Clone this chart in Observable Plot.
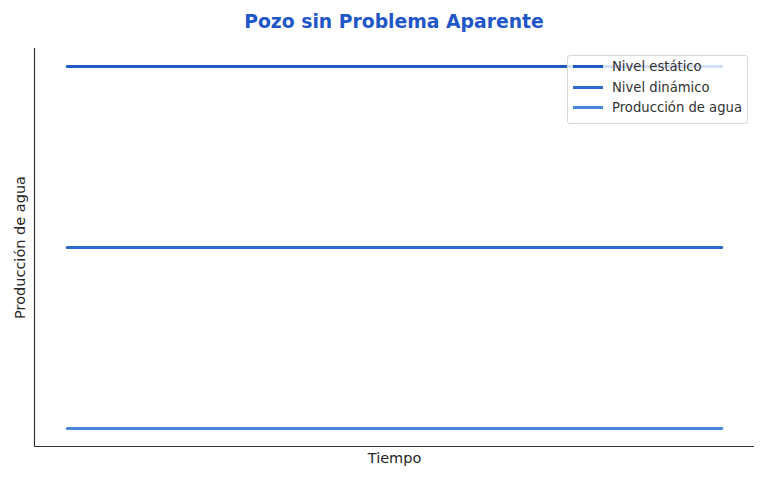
<!DOCTYPE html>
<html>
<head>
<meta charset="utf-8">
<script src="https://cdn.jsdelivr.net/npm/d3@7"></script>
<script src="https://cdn.jsdelivr.net/npm/@observablehq/plot@0.6"></script>
<style>
  html, body { margin: 0; padding: 0; background: #fff; }
  body { width: 768px; height: 480px; position: relative; overflow: hidden; font-family: "DejaVu Sans", sans-serif; }
  #title { height: 40px; line-height: 43px; padding-left: 20px; text-align: center; font-weight: bold; font-size: 18.8px; color: #1f56c8; }
  #legend { position: absolute; left: 567px; top: 55px; width: 179px; padding: 0 0 5px 0; background: rgba(255,255,255,0.8); border: 1px solid #d8d8d8; border-radius: 3px; font-size: 13.2px; color: #333; }
  .item { display: flex; align-items: center; height: 20.7px; }
  .sw { width: 30px; height: 3px; margin-left: 5px; margin-right: 9px; }
</style>
</head>
<body>
<div id="title">Pozo sin Problema Aparente</div>
<div id="chart"></div>
<div id="legend"></div>
<script>
const tiempo = [0, 1, 2, 3, 4, 5, 6, 7, 8, 9, 10];
const nivelEstatico = [3, 3, 3, 3, 3, 3, 3, 3, 3, 3, 3];
const nivelDinamico = [2, 2, 2, 2, 2, 2, 2, 2, 2, 2, 2];
const produccionAgua = [1, 1, 1, 1, 1, 1, 1, 1, 1, 1, 1];
const seriesNames = ["Nivel estático", "Nivel dinámico", "Producción de agua"];
const seriesColors = ["#1f5bc4", "#2c6ad0", "#4a88dc"];
const seriesValues = [nivelEstatico, nivelDinamico, produccionAgua];

const data = [];
seriesNames.forEach((name, i) => {
  tiempo.forEach((t, j) => data.push({ serie: name, t, v: seriesValues[i][j] }));
});

const plot = Plot.plot({
  width: 768,
  height: 440,
  marginTop: 8,
  marginBottom: 34,
  marginLeft: 34,
  marginRight: 14,
  style: { fontFamily: "DejaVu Sans, sans-serif", fontSize: "14px", color: "#333" },
  x: { domain: [-0.5, 10.5], axis: null },
  y: { domain: [0.9, 3.1], axis: null },
  color: { domain: seriesNames, range: seriesColors },
  marks: [
    Plot.lineY(data, { x: "t", y: "v", z: "serie", stroke: "serie", strokeWidth: 3 }),
    Plot.ruleX([-0.5], { stroke: "#333", strokeWidth: 1.2 }),
    Plot.ruleY([0.9], { stroke: "#333", strokeWidth: 1.2 }),
    Plot.text(["Producción de agua"], { frameAnchor: "left", textAnchor: "middle", rotate: -90, dx: -14, fontSize: 14.5, fill: "#262626" }),
    Plot.text(["Tiempo"], { frameAnchor: "bottom", textAnchor: "middle", dy: 16, fontSize: 14.5, fill: "#262626" })
  ]
});
document.getElementById("chart").appendChild(plot);

const legend = document.getElementById("legend");
seriesNames.forEach((name, i) => {
  const item = document.createElement("div");
  item.className = "item";
  const sw = document.createElement("div");
  sw.className = "sw";
  sw.style.background = seriesColors[i];
  const lab = document.createElement("span");
  lab.textContent = name;
  item.appendChild(sw);
  item.appendChild(lab);
  legend.appendChild(item);
});
</script>
</body>
</html>
